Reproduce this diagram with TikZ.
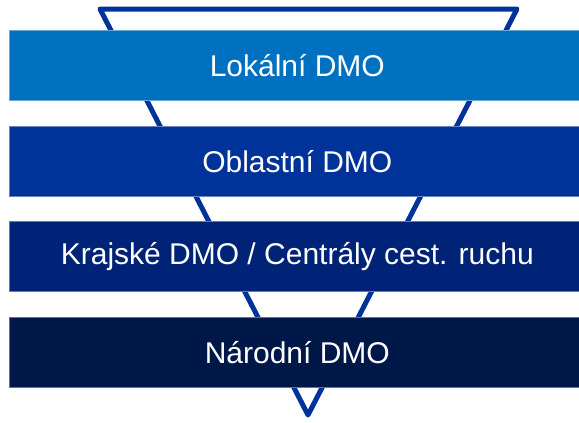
\documentclass[tikz,border=0pt]{standalone}
\usepackage{fontspec}
\setmainfont{Liberation Sans}
\definecolor{tri}{HTML}{003399}
\definecolor{barA}{HTML}{0070C0}
\definecolor{barB}{HTML}{003399}
\definecolor{barC}{HTML}{002277}
\definecolor{barD}{HTML}{001848}
\begin{document}
\begin{tikzpicture}[x=1pt,y=-1pt,
  level/.style={draw=#1!60!white, line width=0.6pt, fill=#1, minimum width=576pt, minimum height=70pt,
    inner sep=0pt, anchor=north west, text=white, font=\fontsize{30}{36}\selectfont},
  funnel/.style={draw=tri, line width=5pt, line join=round, fill=white}]
\useasboundingbox (0,0) rectangle (579,423);
\coordinate (tl) at (100,9);
\coordinate (tr) at (517,9);
\coordinate (ap) at (308,415);
\draw[funnel] (tl) -- (tr) -- (ap) -- cycle;
\node[level=barA] (l1) at (9,30) {Lokální DMO};
\node[level=barB] (l2) at (9,126) {Oblastní DMO};
\node[level=barC] (l3) at (9,221) {Krajské DMO / Centrály cest. ruchu};
\node[level=barD] (l4) at (9,317) {Národní DMO};
\end{tikzpicture}
\end{document}
